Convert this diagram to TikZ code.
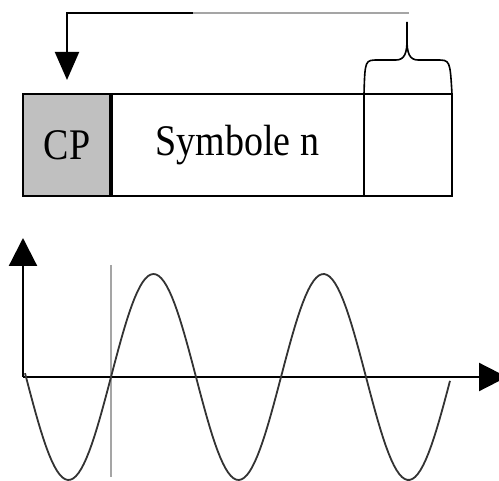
\documentclass[tikz,border=0pt]{standalone}
\usepackage{fontspec}
\setmainfont{Liberation Serif}
\usetikzlibrary{arrows.meta,positioning}
\definecolor{cpgray}{RGB}{192,192,192}
\definecolor{guidegray}{RGB}{165,165,165}
\newcommand{\tallword}[1]{\scalebox{1}[1.15]{#1}}
\tikzset{
  cell/.style={draw=black, line width=1.8pt, minimum height=102pt, inner sep=0pt, outer sep=0pt, font=\fontsize{38}{40}\selectfont},
  axis/.style={line width=2.2pt, -{Triangle[width=28pt,length=28pt]}},
  wave/.style={line width=1.8pt, black!80},
  guide/.style={line width=1.8pt, guidegray}
}
\begin{document}
\begin{tikzpicture}[x=1pt, y=-1pt]
  \useasboundingbox (0,0) rectangle (499,481);

  %% Frame: cyclic prefix, symbol, tail
  \node[cell, fill=cpgray, minimum width=88pt] (cp) at (67,145) {\tallword{CP}};
  \node[cell, minimum width=253pt, right=0pt of cp] (sym) {\tallword{Symbole n}};
  \node[cell, minimum width=88pt, right=0pt of sym] (tail) {};
  \draw[line width=3.2pt] (cp.north east) -- (cp.south east);

  %% Brace over the tail
  \coordinate (tip) at (407,22);
  \draw[line width=1.6pt] (tail.north west) .. controls (365,60) .. (378,60) -- (396,60)
    .. controls (405,60) and (407,52) .. (407,40) -- (tip);
  \draw[line width=1.6pt] (tail.north east) .. controls (450,60) .. (437,60) -- (418,60)
    .. controls (409,60) and (407,52) .. (407,40);

  %% Copy of the tail sent back to the prefix
  \coordinate (back) at (409,13);
  \coordinate (mid) at (193,13);
  \draw[guide] (back) -- (mid);
  \draw[line width=2pt, -{Triangle[width=24pt,length=28pt]}, shorten >=14pt] (mid) -| (cp.north);

  %% Signal
  \coordinate (o) at (23,377);
  \draw[axis] (o) -- (507,377);
  \draw[axis] (o) -- (23,238);
  \draw[guide] (111,265) -- (111,477);
  \draw[wave] plot[domain=25:450, samples=160] (\x, {377 - 103*sin((\x-111)*2.1176)});
\end{tikzpicture}
\end{document}
